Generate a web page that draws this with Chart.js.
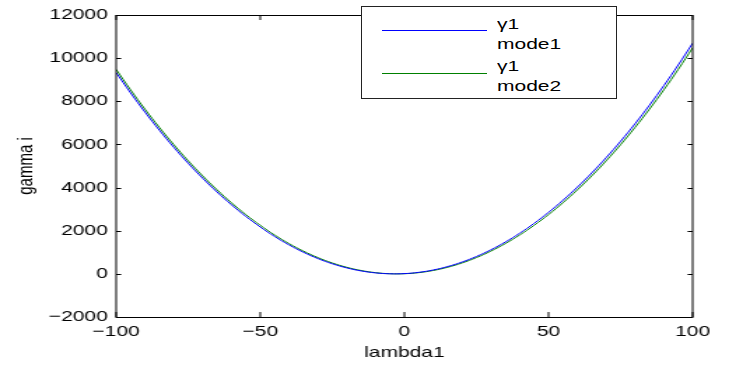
<!DOCTYPE html>
<html>
<head>
<meta charset="utf-8">
<script src="https://cdn.jsdelivr.net/npm/chart.js@4.4.1/dist/chart.umd.min.js"></script>
<style>
  html, body { margin: 0; padding: 0; background: #fff; }
  #wrap { position: relative; width: 743px; height: 365px; overflow: hidden; background: #fff; }
  #c { position: absolute; left: 0; top: 0; }
  .lg { position: absolute; left: 361px; top: 6px; width: 254px; height: 91px;
        border: 1px solid #222; background: #fff; box-sizing: content-box; }
  .sw { position: absolute; left: 20px; width: 105px; height: 0; border-top: 1px solid; }
  .tx { position: absolute; left: 135px; font: 15px "Liberation Sans", Arial, sans-serif;
        line-height: 20px; color: #000; transform: scaleX(1.4); transform-origin: 0 0; white-space: nowrap; }
</style>
</head>
<body>
<div id="wrap">
  <canvas id="c" width="531" height="365" style="width:743px;height:365px"></canvas>
  <div class="lg">
    <div class="sw" style="top:23px;border-color:#0000ff"></div>
    <div class="tx" style="top:7px">γ1<br>mode1</div>
    <div class="sw" style="top:66px;border-color:#008000"></div>
    <div class="tx" style="top:49px">γ1<br>mode2</div>
  </div>
</div>
<script>
// lambda1 values (x axis) and gamma i curves
const lambdaVals = [-100, -95, -90, -85, -80, -75, -70, -65, -60, -55, -50, -45, -40, -35, -30, -25, -20, -15, -10, -5,
  0, 5, 10, 15, 20, 25, 30, 35, 40, 45, 50, 55, 60, 65, 70, 75, 80, 85, 90, 95, 100];
const mode1 = [9332, 8391, 7500, 6659, 5868, 5127, 4436, 3795, 3204, 2663, 2172, 1731, 1340, 999, 708, 467, 276, 135, 44, 3,
  12, 71, 180, 339, 548, 807, 1116, 1475, 1884, 2343, 2852, 3411, 4020, 4679, 5388, 6147, 6956, 7815, 8724, 9683, 10692];
const mode2 = [9478, 8531, 7633, 6786, 5988, 5240, 4543, 3895, 3296, 2748, 2250, 1801, 1402, 1053, 754, 505, 305, 156, 56, 6,
  6, 56, 156, 305, 505, 754, 1053, 1402, 1801, 2250, 2748, 3296, 3895, 4543, 5240, 5988, 6786, 7633, 8531, 9478, 10475];
const xTicks = [-100, -50, 0, 50, 100];
const yTicks = [-2000, 0, 2000, 4000, 6000, 8000, 10000, 12000];

const FONT = { family: '"Liberation Sans", Arial, sans-serif', size: 15 };
const minus = v => String(v).replace("-", "\u2212");

// box round the axes + inward tick marks (matlab look)
const framePlugin = {
  id: "frame",
  afterDraw(chart) {
    const { ctx, chartArea: a, scales: { x, y } } = chart;
    ctx.save();
    ctx.strokeStyle = "#000";
    ctx.lineWidth = 1;
    ctx.strokeRect(a.left, a.top + 0.5, a.right - a.left, a.bottom - a.top);
    ctx.beginPath();
    x.ticks.forEach(t => {
      const px = x.getPixelForValue(t.value);
      ctx.moveTo(px, a.bottom); ctx.lineTo(px, a.bottom - 5);
      ctx.moveTo(px, a.top); ctx.lineTo(px, a.top + 5);
    });
    y.ticks.forEach(t => {
      const py = Math.round(y.getPixelForValue(t.value)) + 0.5;
      ctx.moveTo(a.left, py); ctx.lineTo(a.left + 3.6, py);
      ctx.moveTo(a.right, py); ctx.lineTo(a.right - 3.6, py);
    });
    ctx.stroke();
    ctx.restore();
  }
};

new Chart(document.getElementById("c"), {
  type: "line",
  data: {
    datasets: [
      { label: "γ1 mode1", data: lambdaVals.map((v, i) => ({ x: v, y: mode1[i] })),
        borderColor: "#0000ff", borderWidth: 1, pointRadius: 0, tension: 0.4, fill: false },
      { label: "γ1 mode2", data: lambdaVals.map((v, i) => ({ x: v, y: mode2[i] })),
        borderColor: "#008000", borderWidth: 1, pointRadius: 0, tension: 0.4, fill: false },
    ],
  },
  options: {
    responsive: false,
    devicePixelRatio: 1,
    animation: false,
    layout: { padding: { top: 12, right: 36, left: 0, bottom: 0 } },
    plugins: { legend: { display: false }, tooltip: { enabled: false } },
    scales: {
      x: {
        type: "linear", min: -100, max: 100,
        afterBuildTicks: s => { s.ticks = xTicks.map(v => ({ value: v })); },
        afterFit: s => { s.height = 48; },
        grid: { display: false, drawTicks: false },
        border: { display: false },
        ticks: { color: "#000", font: FONT, padding: 6, maxRotation: 0, callback: v => minus(v) },
        title: { display: true, text: "lambda1", color: "#000", font: FONT, padding: { top: 0, bottom: 3 } },
      },
      y: {
        min: -2000, max: 12000,
        afterBuildTicks: s => { s.ticks = yTicks.map(v => ({ value: v })); },
        afterFit: s => { s.width = 83; },
        grid: { display: false, drawTicks: false },
        border: { display: false },
        ticks: { color: "#000", font: FONT, padding: 6, callback: v => minus(v) },
        title: { display: true, text: "gamma i", color: "#000", font: FONT, padding: { top: 10, bottom: 0 } },
      },
    },
  },
  plugins: [framePlugin],
});
</script>
</body>
</html>
